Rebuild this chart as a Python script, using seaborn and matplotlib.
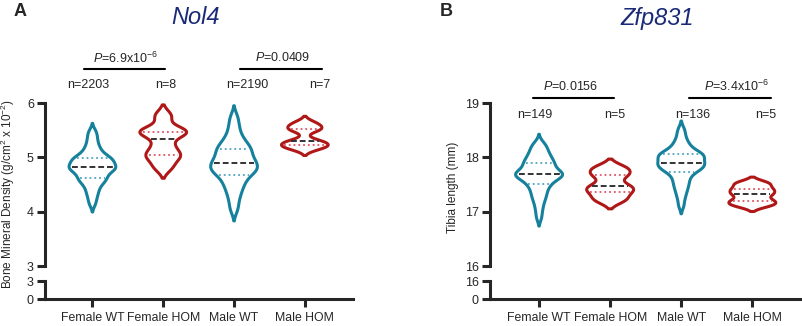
import numpy as np
import pandas as pd
import matplotlib
matplotlib.use('Agg')
import matplotlib.pyplot as plt
import seaborn as sns

# categories
groups = ['Female WT', 'Female HOM', 'Male WT', 'Male HOM']
genotypes = ['WT', 'HOM', 'WT', 'HOM']

# Panel A: Nol4, bone mineral density (g/cm2 x 10^-2), representative values
bmd_female_wt = [4.14, 4.24, 4.32, 4.38, 4.44, 4.49, 4.53, 4.56, 4.59, 4.61,
                 4.63, 4.66, 4.69, 4.72, 4.74, 4.76, 4.78, 4.79, 4.80, 4.81,
                 4.83, 4.84, 4.86, 4.88, 4.90, 4.92, 4.94, 4.96, 4.97, 4.98,
                 5.00, 5.03, 5.06, 5.10, 5.14, 5.19, 5.25, 5.32, 5.40, 5.48]
bmd_female_hom = [4.82, 5.00, 5.06, 5.22, 5.44, 5.46, 5.50, 5.76]
bmd_male_wt = [4.02, 4.14, 4.25, 4.33, 4.40, 4.46, 4.51, 4.56, 4.60, 4.64,
               4.68, 4.71, 4.73, 4.75, 4.77, 4.79, 4.81, 4.83, 4.86, 4.88,
               4.90, 4.92, 4.94, 4.97, 5.00, 5.03, 5.06, 5.09, 5.12, 5.15,
               5.17, 5.20, 5.24, 5.28, 5.32, 5.38, 5.45, 5.54, 5.64, 5.76]
bmd_male_hom = [5.16, 5.21, 5.25, 5.30, 5.50, 5.55, 5.63]
bmd_n = ['n=2203', 'n=8', 'n=2190', 'n=7']
bmd_p = [r'$P$=6.9x10$^{-6}$', r'$P$=0.0409']

# Panel B: Zfp831, tibia length (mm), representative values
tib_female_wt = [16.89, 17.02, 17.12, 17.20, 17.26, 17.31, 17.36, 17.41, 17.45, 17.49,
                 17.52, 17.55, 17.58, 17.60, 17.62, 17.64, 17.66, 17.67, 17.68, 17.69,
                 17.70, 17.71, 17.73, 17.75, 17.77, 17.80, 17.83, 17.86, 17.88, 17.89,
                 17.92, 17.95, 17.98, 18.01, 18.04, 18.08, 18.12, 18.17, 18.21, 18.27]
tib_female_hom = [17.22, 17.37, 17.47, 17.67, 17.80]
tib_male_wt = [17.11, 17.24, 17.33, 17.40, 17.46, 17.51, 17.56, 17.61, 17.65, 17.70,
               17.73, 17.75, 17.77, 17.79, 17.81, 17.83, 17.84, 17.86, 17.87, 17.88,
               17.90, 17.92, 17.94, 17.96, 17.98, 18.00, 18.02, 18.03, 18.04, 18.05,
               18.07, 18.09, 18.11, 18.14, 18.18, 18.22, 18.27, 18.33, 18.42, 18.52]
tib_male_hom = [17.12, 17.20, 17.32, 17.41, 17.52]
tib_n = ['n=149', 'n=5', 'n=136', 'n=5']
tib_p = [r'$P$=0.0156', r'$P$=3.4x10$^{-6}$']

teal = '#15819c'
red = '#b01818'
teal_light = '#4fa3bf'
red_light = '#dd5566'
navy = '#1b2a78'

sns.set_style('ticks')
plt.rcParams['font.family'] = ['Liberation Sans', 'DejaVu Sans']
plt.rcParams['mathtext.fontset'] = 'custom'
plt.rcParams['mathtext.rm'] = 'Liberation Sans'
plt.rcParams['mathtext.it'] = 'Liberation Sans:italic'
plt.rcParams['axes.linewidth'] = 2.2


def make_df(arrays):
    rows = []
    for g, geno, vals in zip(groups, genotypes, arrays):
        for v in vals:
            rows.append((g, geno, v))
    return pd.DataFrame(rows, columns=['group', 'geno', 'value'])


def x_span(verts, y):
    xs = []
    for (x0, y0), (x1, y1) in zip(verts[:-1], verts[1:]):
        if y0 != y1 and (y0 - y) * (y1 - y) <= 0:
            xs.append(x0 + (y - y0) * (x1 - x0) / (y1 - y0))
    return min(xs), max(xs)


def panel(left, width, arrays, ylim, ylabel, ylabel_xy, title, title_x,
          letter, letter_x, n_labels, n_x, n_y, p_labels, p_x, p_line, p_line_y, p_text_y, xlim):
    ax = fig.add_axes([left, 0.184, width, 0.5])
    axb = fig.add_axes([left, 0.0828, width, 0.0552])
    df = make_df(arrays)
    sns.violinplot(data=df, x='group', y='value', hue='geno', order=groups,
                   hue_order=['WT', 'HOM'], palette={'WT': teal, 'HOM': red},
                   fill=False, inner=None, cut=2, density_norm='width', width=0.66,
                   linewidth=2.2, bw_adjust=0.5, dodge=False, legend=False, ax=ax)

    # quartile / median lines across each violin
    for coll in ax.collections:
        for path in coll.get_paths():
            verts = path.vertices
            cx = (verts[:, 0].min() + verts[:, 0].max()) / 2
            i = int(round(cx))
            vals = arrays[i]
            q1, med, q3 = np.percentile(vals, [25, 50, 75])
            light = teal_light if genotypes[i] == 'WT' else red_light
            for y, c, ls, lw in [(q1, light, ':', 1.3), (q3, light, ':', 1.3),
                                 (med, '#333333', (0, (3, 1.5)), 1.4)]:
                xl, xr = x_span(verts, y)
                ax.plot([xl + 0.04, xr - 0.04], [y, y], color=c, ls=ls, lw=lw)

    ax.set_xlim(*xlim)
    ax.set_ylim(*ylim)
    ax.set_yticks(np.arange(ylim[0], ylim[1] + 1))
    ax.set_xticks([])
    ax.set_xlabel('')
    ax.set_ylabel('')
    for s in ['top', 'right', 'bottom']:
        ax.spines[s].set_visible(False)
    ax.tick_params(axis='y', length=6, width=2.2, labelsize=9, pad=2)

    axb.set_xlim(*xlim)
    axb.set_ylim(0, ylim[0])
    axb.set_yticks([0, ylim[0]])
    axb.set_xticks(range(4))
    axb.set_xticklabels(groups)
    for s in ['top', 'right']:
        axb.spines[s].set_visible(False)
    axb.tick_params(axis='y', length=6, width=2.2, labelsize=9, pad=2)
    axb.tick_params(axis='x', length=6, width=2.2, labelsize=8.8, pad=3)
    axb.patch.set_alpha(0)

    for lab, x in zip(n_labels, n_x):
        ax.text(x, n_y, lab, ha='center', va='center', fontsize=9, clip_on=False)
    for lab, x, (x0, x1) in zip(p_labels, p_x, p_line):
        ax.text(x, p_text_y, lab, ha='center', va='center', fontsize=9, clip_on=False)
        ax.plot([x0, x1], [p_line_y, p_line_y], color='black', lw=1.5, clip_on=False)

    fig.text(ylabel_xy[0], ylabel_xy[1], ylabel, rotation=90, ha='center', va='center', fontsize=8.5)
    fig.text(title_x, 1 - 18 / 326, title, ha='center', va='center', fontsize=17,
             style='italic', color=navy)
    fig.text(letter_x, 1 - 11 / 326, letter, ha='center', va='center', fontsize=13,
             fontweight='bold')


fig = plt.figure(figsize=(8.03, 3.26), dpi=100)

panel(45 / 803, 308 / 803, [bmd_female_wt, bmd_female_hom, bmd_male_wt, bmd_male_hom],
      (3, 6), r'Bone Mineral Density (g/cm$^2$ x 10$^{-2}$)', (8 / 803, 1 - 194 / 326),
      'Nol4', 196 / 803, 'A', 20 / 803,
      bmd_n, [-0.06, 1.03, 2.18, 3.21], 6.33,
      bmd_p, [0.46, 2.69], [(-0.12, 1.03), (2.09, 3.24)], 6.63, 6.83, (-0.67, 3.68))

panel(490 / 803, 310 / 803, [tib_female_wt, tib_female_hom, tib_male_wt, tib_male_hom],
      (16, 19), 'Tibia length (mm)', (453 / 803, 1 - 187 / 326),
      'Zfp831', 657 / 803, 'B', 446 / 803,
      tib_n, [-0.06, 1.06, 2.16, 3.19], 18.78,
      tib_p, [0.45, 2.77], [(-0.08, 1.05), (2.11, 3.26)], 19.09, 19.30, (-0.69, 3.67))

fig.savefig('out.png', dpi=100)
